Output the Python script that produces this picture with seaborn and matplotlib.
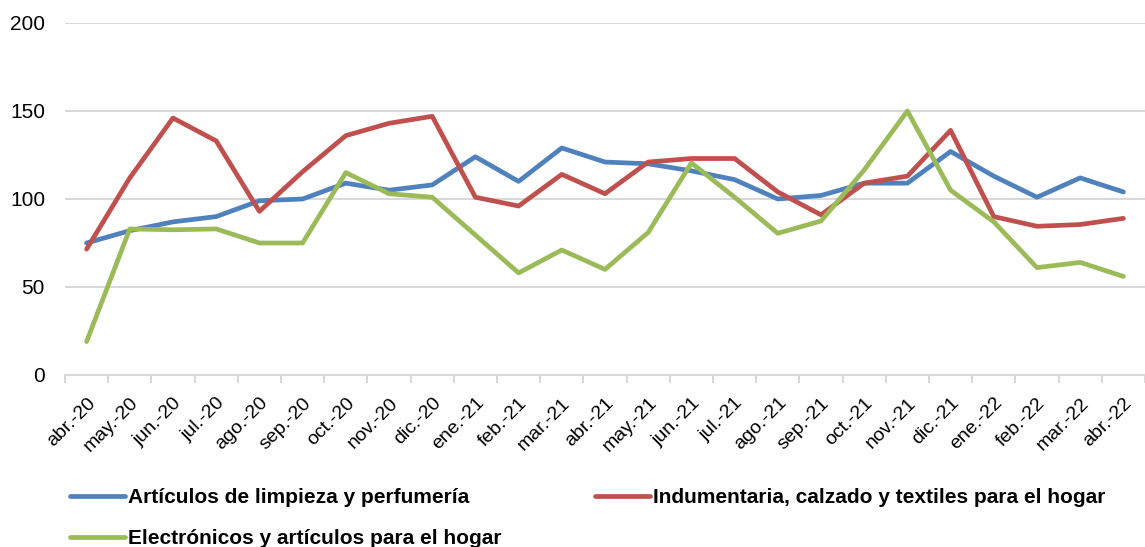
import numpy as np
import pandas as pd
import matplotlib
matplotlib.use("Agg")
import matplotlib.pyplot as plt
import seaborn as sns
from matplotlib.ticker import FixedLocator

months = ["abr.-20", "may.-20", "jun.-20", "jul.-20", "ago.-20", "sep.-20", "oct.-20",
          "nov.-20", "dic.-20", "ene.-21", "feb.-21", "mar.-21", "abr.-21", "may.-21",
          "jun.-21", "jul.-21", "ago.-21", "sep.-21", "oct.-21", "nov.-21", "dic.-21",
          "ene.-22", "feb.-22", "mar.-22", "abr.-22"]

limpieza = [75, 82, 87, 90, 99, 100, 109, 105, 108, 124, 110, 129, 121, 120, 116, 111,
            100, 102, 109, 109, 127, 113, 101, 112, 104]
indumentaria = [71.5, 112, 146, 133, 93, 115.5, 136, 143, 147, 101, 96, 114, 103, 121,
                123, 123, 104, 91, 109, 113, 139, 90, 84.5, 85.5, 89]
electronicos = [19, 83, 82.5, 83, 75, 75, 115, 103, 101, 79.5, 58, 71, 60, 81, 120.5,
                101, 80.5, 87.5, 116.5, 150, 105, 87, 61, 64, 56]

series_names = ["Artículos de limpieza y perfumería",
                "Indumentaria, calzado y textiles para el hogar",
                "Electrónicos y artículos para el hogar"]
colors = ["#4F81BD", "#C0504D", "#9BBB59"]
yticks = [0, 50, 100, 150, 200]

sns.set_theme(style="white")
plt.rcParams["font.family"] = ["Liberation Sans", "DejaVu Sans"]
plt.rcParams["text.color"] = "black"

df = pd.DataFrame({"idx": np.arange(len(months)),
                   series_names[0]: limpieza,
                   series_names[1]: indumentaria,
                   series_names[2]: electronicos})
long = df.melt(id_vars="idx", var_name="serie", value_name="valor")

fig = plt.figure(figsize=(11.45, 5.47), dpi=100)
W, H = 1145, 547
ax = fig.add_axes([65 / W, 172 / H, 1 - 65 / W, 352 / H])

sns.lineplot(data=long, x="idx", y="valor", hue="serie", hue_order=series_names,
             palette=dict(zip(series_names, colors)), linewidth=3.4, ax=ax,
             legend=True, solid_capstyle="round")

ax.set_xlim(-0.5, len(months) - 0.5)
ax.set_ylim(0, 200)
ax.set_yticks(yticks)
ax.set_yticklabels([str(v) for v in yticks])
ax.set_xlabel("")
ax.set_ylabel("")

ax.xaxis.set_major_locator(FixedLocator(np.arange(len(months))))
ax.set_xticklabels(months, rotation=45, ha="right", rotation_mode="anchor")
ax.xaxis.set_minor_locator(FixedLocator(np.arange(len(months) + 1) - 0.5))
ax.tick_params(axis="x", which="major", length=0, pad=14, labelsize=14, colors="black")
ax.tick_params(axis="x", which="minor", length=6, width=1.5, color="#D9D9D9", bottom=True)
ax.tick_params(axis="y", length=0, pad=14.4, labelsize=15, colors="black")

ax.grid(False)
ax.yaxis.grid(True, color="#D9D9D9", linewidth=1.5)
ax.set_axisbelow(True)
for s in ["top", "right", "left"]:
    ax.spines[s].set_visible(False)
ax.spines["bottom"].set_color("#D9D9D9")
ax.spines["bottom"].set_linewidth(1.5)

handles, labels = ax.get_legend_handles_labels()
ax.get_legend().remove()
hmap = dict(zip(labels, handles))
common = dict(loc="upper left", frameon=False, borderpad=0, borderaxespad=0,
              handlelength=2.64, handletextpad=0.15, labelspacing=1.06,
              prop={"weight": "bold", "size": 15}, labelcolor="black")
col1 = [series_names[0], series_names[2]]
col2 = [series_names[1]]
fig.legend([hmap[n] for n in col1], col1, bbox_to_anchor=(70 / W, (H - 488) / H), **common)
fig.legend([hmap[n] for n in col2], col2, bbox_to_anchor=(595 / W, (H - 488) / H), **common)

fig.savefig("out.png", dpi=100)
